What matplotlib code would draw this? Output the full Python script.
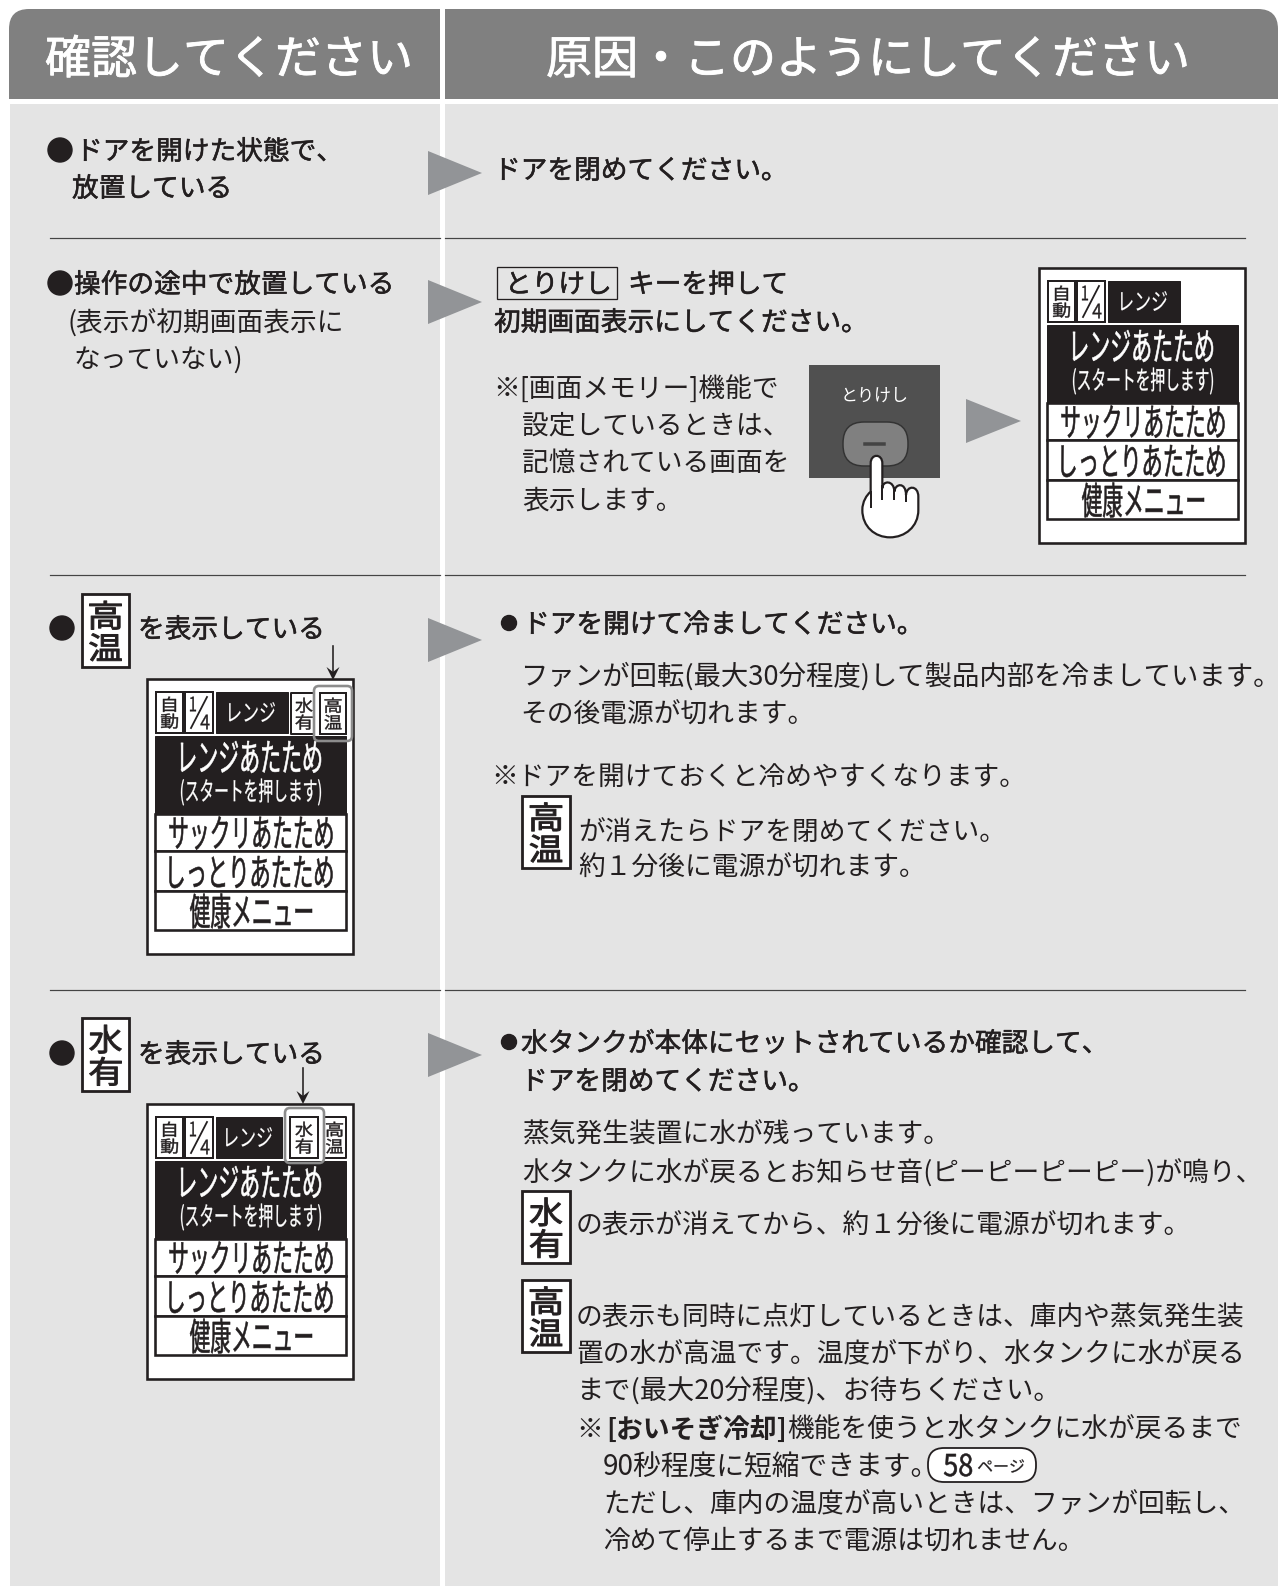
"""Redraw the microwave manual troubleshooting table as a matplotlib figure."""

import matplotlib

matplotlib.use("Agg")
import matplotlib.patheffects as pe
import matplotlib.pyplot as plt
from matplotlib.font_manager import FontProperties
from matplotlib.patches import FancyBboxPatch, PathPatch, Polygon, Rectangle
from matplotlib.path import Path
from matplotlib.text import Text
from matplotlib.textpath import TextPath
from matplotlib.transforms import Affine2D, Bbox

FONT = "Noto Sans CJK JP"
plt.rcParams["font.family"] = [FONT, "DejaVu Sans"]

INK = "#231f20"
BODY_GREY = "#e4e4e4"
HEAD_GREY = "#808080"
ARROW_GREY = "#929497"

HEADERS = ["確認してください", "原因・このようにしてください"]
CHECK_DOOR = ["ドアを開けた状態で、", "放置している"]
CHECK_IDLE = ["操作の途中で放置している", "(表示が初期画面表示に", "なっていない)"]
CHECK_SHOWING = "を表示している"
FIX_DOOR = "ドアを閉めてください。"
CANCEL_KEY = "とりけし"
FIX_IDLE = ["キーを押して", "初期画面表示にしてください。"]
FIX_IDLE_NOTE = ["※[画面メモリー]機能で", "設定しているときは、", "記憶されている画面を", "表示します。"]
FIX_HOT = [
    "ドアを開けて冷ましてください。",
    "ファンが回転(最大30分程度)して製品内部を冷ましています。",
    "その後電源が切れます。",
    "※ドアを開けておくと冷めやすくなります。",
    "が消えたらドアを閉めてください。",
    "約１分後に電源が切れます。",
]
FIX_WATER = [
    "水タンクが本体にセットされているか確認して、",
    "ドアを閉めてください。",
    "蒸気発生装置に水が残っています。",
    "水タンクに水が戻るとお知らせ音(ピーピーピーピー)が鳴り、",
    "の表示が消えてから、約１分後に電源が切れます。",
    "の表示も同時に点灯しているときは、庫内や蒸気発生装",
    "置の水が高温です。温度が下がり、水タンクに水が戻る",
    "まで(最大20分程度)、お待ちください。",
    "※",
    "[おいそぎ冷却]",
    "機能を使うと水タンクに水が戻るまで",
    "90秒程度に短縮できます。",
    "ただし、庫内の温度が高いときは、ファンが回転し、",
    "冷めて停止するまで電源は切れません。",
]
PAGE_REF = ["58", "ページ"]
LCD_ROWS = ["レンジあたため", "(スタートを押します)", "サックリあたため", "しっとりあたため", "健康メニュー"]
LCD_MODE = "レンジ"
ICON_AUTO = ["自", "動"]
ICON_QUARTER = ["1", "4"]
ICON_HOT = ["高", "温"]
ICON_WATER = ["水", "有"]
DIVIDER_ROWS = [237.5, 575, 990]
ARROW_ROWS = [173, 302, 640, 1055]


class CondensedText(Text):
    """Real text drawn squeezed to a pixel width, like the LCD lettering."""

    def __init__(self, x, y, text, em, width, stroke=0.0, **kwargs):
        super().__init__(x, y, text, **kwargs)
        self.em = em
        self.target_width = width
        self.stroke = stroke

    def _placed_path(self):
        scale = self.figure.dpi / 72
        path = TextPath((0, 0), self.get_text(), size=self.em * 0.72, prop=FontProperties(family=FONT))
        box = path.get_extents()
        cx, cy = self.get_transform().transform((self._x, self._y))
        squeeze = self.target_width / box.width
        placed = (
            Affine2D()
            .translate(-(box.x0 + box.x1) / 2, -(box.y0 + box.y1) / 2)
            .scale(squeeze, scale)
            .translate(cx, cy)
        )
        return path, placed

    def get_window_extent(self, renderer=None, dpi=None):
        path, placed = self._placed_path()
        return Bbox(path.transformed(placed).get_extents().get_points())

    def draw(self, renderer):
        if not self.get_visible():
            return
        path, placed = self._placed_path()
        gc = renderer.new_gc()
        gc.set_foreground(self.get_color())
        gc.set_linewidth(self.stroke)
        renderer.draw_path(gc, path, placed, matplotlib.colors.to_rgb(self.get_color()))
        gc.restore()


figure = plt.figure(figsize=(12.78, 15.86), dpi=100, facecolor="white")
axis = figure.add_axes([0, 0, 1, 1])
axis.set_xlim(0, 1278)
axis.set_ylim(1586, 0)
axis.axis("off")


def px(value):
    """Convert reference pixels to points."""

    return value * 0.72


def put(x, yc, text, em=26.7, stroke=0.0, color=INK, ha="left", weight="normal", zorder=5):
    """Write a line with its body centred on yc, in reference pixels."""

    item = axis.text(x, yc + em * 0.36, text, fontsize=px(em), color=color, ha=ha, va="baseline", weight=weight, zorder=zorder)
    if stroke:
        item.set_path_effects([pe.withStroke(linewidth=stroke, foreground=color)])
    return item


def medium(x, yc, text, em=26.7):
    """Lines set a little heavier than the running text."""

    return put(x, yc, text, em=em, stroke=0.38)


def squeezed(x, yc, text, em, width, color=INK, stroke=0.4, zorder=8):
    item = CondensedText(x, yc, text, em, width, stroke=stroke, color=color, zorder=zorder)
    axis.add_artist(item)
    return item


def box(x0, y0, x1, y1, face="white", edge=INK, lw=2.0, zorder=3):
    axis.add_patch(Rectangle((x0, y0), x1 - x0, y1 - y0, facecolor=face, edgecolor=edge, linewidth=px(lw), zorder=zorder))


def rounded(x0, y0, x1, y1, radius, face, edge="none", lw=0.0, zorder=2):
    axis.add_patch(
        FancyBboxPatch(
            (x0 + radius, y0 + radius),
            x1 - x0 - 2 * radius,
            y1 - y0 - 2 * radius,
            boxstyle=f"round,pad={radius},rounding_size={radius}",
            facecolor=face,
            edgecolor=edge,
            linewidth=px(lw),
            zorder=zorder,
        )
    )


def dot(x, y, radius):
    axis.add_patch(plt.Circle((x, y), radius, color=INK, zorder=5))


def draw_icon(x0, y0, x1, y1, chars):
    """Draw a stacked two-character indicator in a ruled box."""

    box(x0, y0, x1, y1, lw=2.8, zorder=4)
    height = y1 - y0
    centre = (x0 + x1) / 2
    squeezed(centre, y0 + height * 0.29, chars[0], 31, 32, stroke=0.7)
    squeezed(centre, y0 + height * 0.73, chars[1], 31, 32, stroke=0.7)


def lcd_icon(x0, y0, x1, y1, chars, framed=True, top_width=17):
    if framed:
        box(x0, y0, x1, y1, lw=2.0, zorder=4)
        box(x0 + 2.5, y0 + 2.5, x1 - 2.5, y1 - 2.5, edge="white", lw=0.8, zorder=4)
    mid = (x0 + x1) / 2
    squeezed(mid, y0 + (y1 - y0) * 0.30, chars[0], 16.5, top_width, stroke=0.3)
    squeezed(mid, y0 + (y1 - y0) * 0.71, chars[1], 16.5, 17, stroke=0.3)


def open_frame(xs, ys):
    axis.plot(xs, ys, color=INK, lw=px(2.0), zorder=4)


def draw_lcd(x0, y0, hot=False, water=False):
    """Draw the control panel display at its top-left corner."""

    box(x0, y0, x0 + 206, y0 + 275, lw=2.6, zorder=3)
    lcd_icon(x0 + 9, y0 + 13, x0 + 36, y0 + 54, ICON_AUTO, top_width=13)
    box(x0 + 38, y0 + 13, x0 + 66, y0 + 54, lw=2.0, zorder=4)
    squeezed(x0 + 46, y0 + 25, ICON_QUARTER[0], 20, 6, stroke=0.2)
    squeezed(x0 + 58, y0 + 43, ICON_QUARTER[1], 20, 9, stroke=0.2)
    axis.plot([x0 + 44, x0 + 60], [y0 + 49, y0 + 18], color=INK, lw=px(1.8), zorder=6)

    mode_right = 141
    if hot:
        # the highlight ring cuts the neighbouring icon's frame
        open_frame([x0 + 167, x0 + 144, x0 + 144, x0 + 167], [y0 + 14, y0 + 14, y0 + 55, y0 + 55])
        lcd_icon(x0 + 144, y0 + 14, x0 + 170, y0 + 55, ICON_WATER, framed=False)
        lcd_icon(x0 + 173, y0 + 14, x0 + 199, y0 + 55, ICON_HOT)
        rounded(x0 + 167, y0 + 7, x0 + 205, y0 + 62, 5, "none", edge="#8c8c8c", lw=2.6, zorder=7)
    elif water:
        mode_right = 135
        open_frame([x0 + 177, x0 + 199, x0 + 199, x0 + 177], [y0 + 13, y0 + 13, y0 + 54, y0 + 54])
        lcd_icon(x0 + 143, y0 + 13, x0 + 171, y0 + 54, ICON_WATER)
        lcd_icon(x0 + 176, y0 + 13, x0 + 199, y0 + 54, ICON_HOT, framed=False)
        rounded(x0 + 138, y0 + 4, x0 + 177, y0 + 59, 5, "none", edge="#8c8c8c", lw=2.6, zorder=7)
    box(x0 + 69, y0 + 13, x0 + mode_right, y0 + 54, face=INK, lw=1, zorder=4)
    squeezed(x0 + (69 + mode_right) / 2, y0 + 33, LCD_MODE, 24, 46, color="white", stroke=0.1)

    box(x0 + 8, y0 + 57, x0 + 199, y0 + 135, face=INK, lw=1, zorder=4)
    squeezed(x0 + 104, y0 + 78, LCD_ROWS[0], 38, 140, color="white")
    squeezed(x0 + 104, y0 + 113, LCD_ROWS[1], 26, 140, color="white", stroke=0.2)
    for row, top, bottom, yc, width in [(2, 135, 172, 154, 163), (3, 172, 212, 193, 163), (4, 212, 251, 232, 122)]:
        box(x0 + 8, y0 + top, x0 + 199, y0 + bottom, lw=2.6, zorder=4)
        squeezed(x0 + 104, y0 + yc, LCD_ROWS[row], 38, width)


def draw_hand():
    """Draw the pressing finger over the cancel key."""

    def place(zoomed):
        return [(780 + zx / 3, 250 + zy / 3) for zx, zy in zoomed]

    outline = [
        (272, 640),
        (272, 610), (307, 610), (307, 640),
        (307, 715),
        (307, 690), (343, 690), (343, 725),
        (345, 700), (378, 695), (378, 735),
        (380, 705), (415, 705), (415, 740),
        (415, 780),
        (415, 830), (375, 862), (330, 862),
        (285, 862), (247, 830), (247, 780),
        (247, 755), (260, 735), (272, 725),
        (272, 640),
    ]
    codes = [Path.MOVETO] + [Path.CURVE4] * 3 + [Path.LINETO] + [Path.CURVE4] * 9 + [Path.LINETO] + [Path.CURVE4] * 9 + [Path.LINETO]
    axis.add_patch(PathPatch(Path(place(outline), codes), facecolor="white", edgecolor=INK, linewidth=px(2.2), zorder=6))
    for zx, top, bottom in [(307, 715, 748), (343, 725, 748), (378, 735, 752), (272, 725, 772)]:
        (x0, y0), (x1, y1) = place([(zx, top), (zx, bottom)])
        axis.plot([x0, x1], [y0, y1], color=INK, lw=px(2.0), zorder=7)


def down_arrow(x, y0, y1):
    axis.plot([x, x], [y0, y1 - 6], color=INK, lw=px(1.6), zorder=9)
    axis.add_patch(Polygon([(x - 6.5, y1 - 13), (x, y1 - 8), (x + 6.5, y1 - 13), (x, y1)], facecolor=INK, edgecolor="none", zorder=9))


def main():
    """Lay out the table from the header down."""

    # header band and grey body, split by a white gutter
    rounded(9, 9, 440, 99, 20, HEAD_GREY)
    axis.add_patch(Rectangle((30, 9), 410, 90, color=HEAD_GREY, lw=0, zorder=2))
    axis.add_patch(Rectangle((9, 30), 431, 69, color=HEAD_GREY, lw=0, zorder=2))
    rounded(445, 9, 1278, 99, 20, HEAD_GREY)
    axis.add_patch(Rectangle((445, 9), 810, 90, color=HEAD_GREY, lw=0, zorder=2))
    axis.add_patch(Rectangle((445, 30), 833, 69, color=HEAD_GREY, lw=0, zorder=2))
    axis.add_patch(Rectangle((10, 104), 430, 1482, color=BODY_GREY, lw=0, zorder=1))
    axis.add_patch(Rectangle((445, 104), 833, 1482, color=BODY_GREY, lw=0, zorder=1))
    put(45, 57, HEADERS[0], em=46, color="white", stroke=0.6)
    put(546, 57, HEADERS[1], em=46, color="white", stroke=0.6)

    for y in DIVIDER_ROWS:
        axis.plot([50, 440], [y, y], color="#444444", lw=px(1.2), zorder=2)
        axis.plot([445, 1245], [y, y], color="#444444", lw=px(1.2), zorder=2)
    for y in ARROW_ROWS:
        axis.add_patch(Polygon([(428, y - 22), (482, y), (428, y + 22)], facecolor=ARROW_GREY, edgecolor="none", zorder=4))

    # row 1
    dot(60, 150, 12)
    medium(76, 150, CHECK_DOOR[0])
    medium(72, 187, CHECK_DOOR[1])
    medium(494, 169, FIX_DOOR)

    # row 2
    dot(60, 283, 12)
    medium(74, 283, CHECK_IDLE[0])
    put(67, 322, CHECK_IDLE[1])
    put(74, 358, CHECK_IDLE[2])
    box(497, 267, 617, 299, face="none", lw=1.3)
    medium(505, 283, CANCEL_KEY)
    medium(628, 283, FIX_IDLE[0])
    medium(494, 321, FIX_IDLE[1])
    put(493, 387, FIX_IDLE_NOTE[0])
    put(522, 424, FIX_IDLE_NOTE[1])
    put(522, 461, FIX_IDLE_NOTE[2])
    put(522, 499, FIX_IDLE_NOTE[3])

    box(809, 365, 940, 478, face="#505050", edge="none", lw=0)
    put(875, 395, CANCEL_KEY, em=17, color="white", ha="center")
    rounded(843, 422, 908, 466, 21, "#808080", edge="#333333", lw=1.5, zorder=4)
    axis.plot([865, 884], [444, 444], color="#444444", lw=px(3.5), zorder=5)
    draw_hand()
    axis.add_patch(Polygon([(966, 399), (1021, 421), (966, 443)], facecolor=ARROW_GREY, edgecolor="none", zorder=4))
    draw_lcd(1039, 268)

    # row 3
    dot(62, 628, 12)
    draw_icon(82, 594, 129, 667, ICON_HOT)
    medium(138, 628, CHECK_SHOWING)
    draw_lcd(147, 679, hot=True)
    down_arrow(333, 646, 680)
    dot(509, 623, 7.5)
    medium(523, 623, FIX_HOT[0])
    put(520, 675, FIX_HOT[1], em=27.4)
    put(520, 713, FIX_HOT[2])
    put(491, 775, FIX_HOT[3])
    draw_icon(522, 796, 570, 868, ICON_HOT)
    put(578, 830, FIX_HOT[4])
    put(578, 866, FIX_HOT[5])

    # row 4
    dot(62, 1053, 12)
    draw_icon(82, 1018, 129, 1091, ICON_WATER)
    medium(138, 1053, CHECK_SHOWING)
    draw_lcd(147, 1104, water=True)
    down_arrow(303, 1068, 1104)
    dot(509, 1042, 7.5)
    medium(521, 1042, FIX_WATER[0])
    medium(521, 1080, FIX_WATER[1])
    put(523, 1133, FIX_WATER[2])
    put(522, 1172, FIX_WATER[3])
    draw_icon(522, 1191, 570, 1263, ICON_WATER)
    put(576, 1224, FIX_WATER[4])
    draw_icon(522, 1280, 570, 1352, ICON_HOT)
    put(576, 1316, FIX_WATER[5])
    put(576, 1353, FIX_WATER[6])
    put(576, 1390, FIX_WATER[7], em=27.2)
    put(576, 1428, FIX_WATER[8])
    put(606, 1428, FIX_WATER[9], weight="bold")
    put(787, 1428, FIX_WATER[10])
    put(603, 1465, FIX_WATER[11], em=27.8)
    rounded(928, 1448, 1036, 1482, 16, "white", edge=INK, lw=1.8, zorder=4)
    squeezed(958, 1465, PAGE_REF[0], 30, 28)
    squeezed(1001, 1466, PAGE_REF[1], 16, 46, stroke=0.2)
    put(603, 1503, FIX_WATER[12])
    put(603, 1539, FIX_WATER[13])

    figure.savefig("out.png", dpi=100)
    plt.close(figure)


if __name__ == "__main__":
    main()
